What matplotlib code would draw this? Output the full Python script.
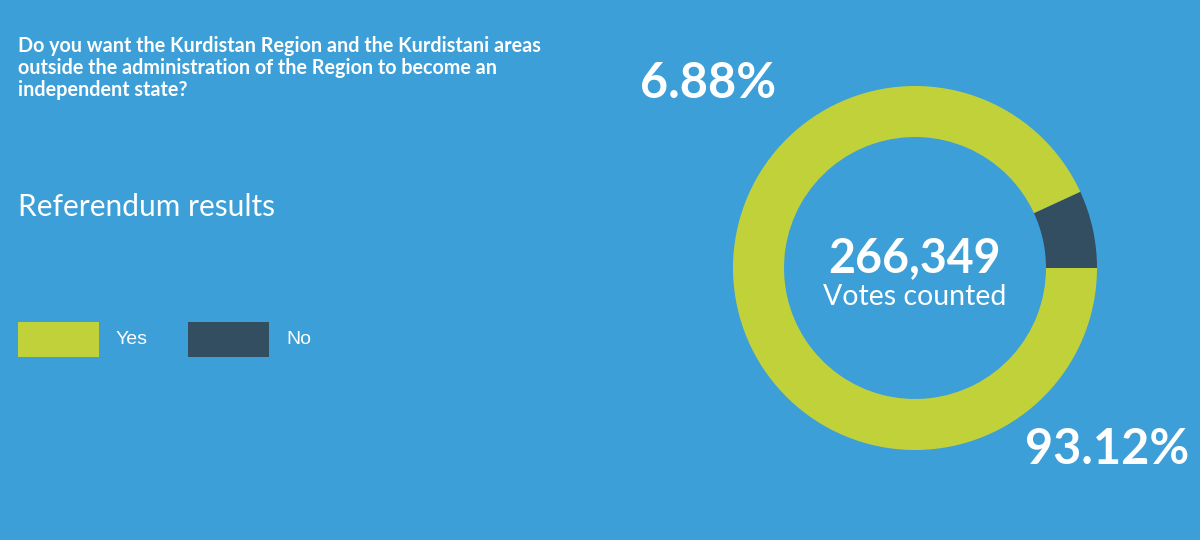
import matplotlib
matplotlib.use("Agg")
import matplotlib.pyplot as plt

# data
labels = ["No", "Yes"]
shares = [6.88, 93.12]
votes_counted = 266349
question = ("Do you want the Kurdistan Region and the Kurdistani areas\n"
            "outside the administration of the Region to become an\n"
            "independent state?")

bg = "#3d9fd7"
colors = {"Yes": "#c1d13a", "No": "#324e60"}

W, H = 1200, 540
fig = plt.figure(figsize=(W / 100, H / 100), dpi=100)
fig.patch.set_facecolor(bg)


def px(x, y):
    # pixel coords from top-left -> figure fraction
    return x / W, 1 - y / H


main_font = ["Lato", "DejaVu Sans"]

# donut, centre ~ (915, 268), r ~ 182
cx, cy, r = 915, 268, 182
ax = fig.add_axes([(cx - r) / W, (H - cy - r) / H, 2 * r / W, 2 * r / H])
ax.pie(shares, colors=[colors[l] for l in labels], startangle=0,
       counterclock=True, wedgeprops=dict(width=51 / 182, linewidth=0))
ax.set_xlim(-1, 1)
ax.set_ylim(-1, 1)
ax.set_aspect("equal")
ax.axis("off")

# question
fig.text(*px(18, 68), question, fontsize=14.2, fontweight="bold", color="white",
         family=main_font, va="center", ha="left", linespacing=1.1)

fig.text(*px(18, 207), "Referendum results", fontsize=21.5, color="white",
         family=main_font, va="center", ha="left")

# legend boxes
for i, lab in enumerate(["Yes", "No"]):
    x0 = 18 + i * 170
    fig.patches.append(plt.Rectangle(px(x0, 357), 81 / W, 35 / H,
                                     transform=fig.transFigure,
                                     facecolor=colors[lab], edgecolor="none"))
    fig.text(*px(x0 + 98, 340), lab, fontsize=14, color="white",
             family=["Liberation Sans", "DejaVu Sans"], va="center", ha="left")

# percentages
fig.text(*px(708, 83), f"{shares[0]:.2f}%", fontsize=35, fontweight="bold",
         color="white", family=main_font, va="center", ha="center")
fig.text(*px(1107, 450), f"{shares[1]:.2f}%", fontsize=35, fontweight="bold",
         color="white", family=main_font, va="center", ha="center")

# centre text
fig.text(*px(cx, 258), f"{votes_counted:,}", fontsize=33.5, fontweight="bold",
         color="white", family=main_font, va="center", ha="center")
fig.text(*px(cx, 297), "Votes counted", fontsize=20.5, color="white",
         family=main_font, va="center", ha="center")

fig.savefig("out.png", dpi=100, facecolor=bg)
